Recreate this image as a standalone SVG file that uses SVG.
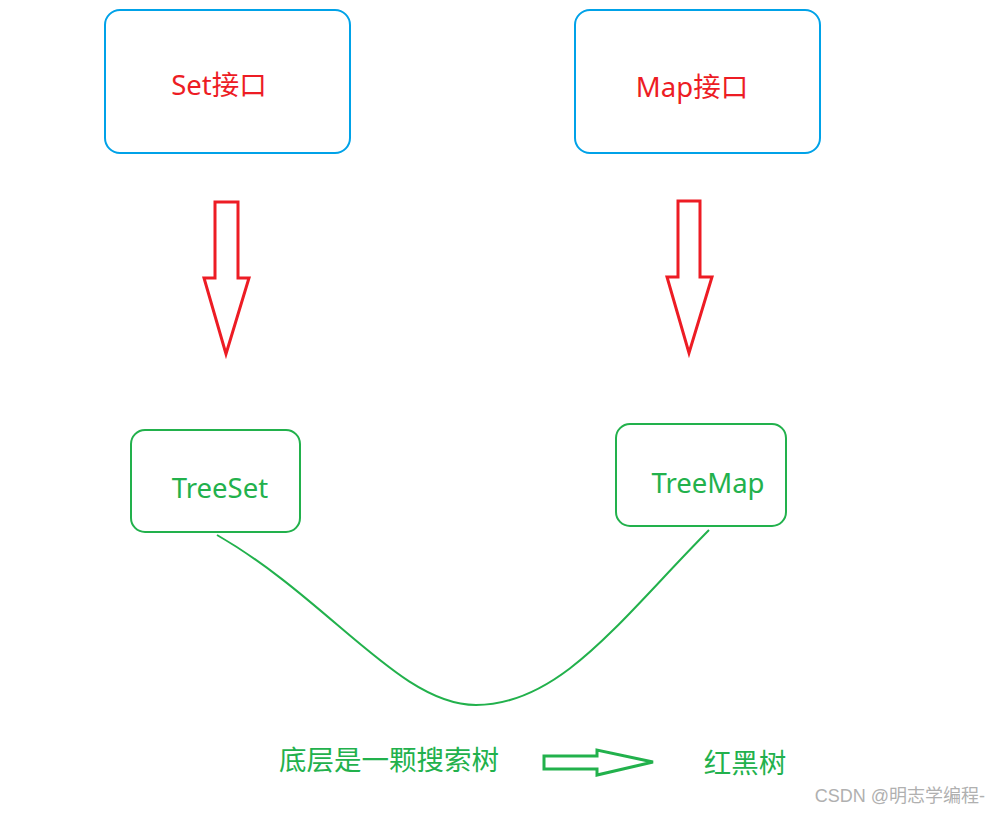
<svg xmlns="http://www.w3.org/2000/svg" width="988" height="813" viewBox="0 0 988 813">
<style>
.blue{fill:#fff;stroke:#00a2e8;stroke-width:2}
.grn{fill:#fff;stroke:#22b14c;stroke-width:2}
.ra{fill:none;stroke:#ed1c24;stroke-width:3}
.t{font-family:"Noto Sans","Noto Sans CJK SC",sans-serif;font-size:27.5px;text-anchor:middle}
.r{fill:#ed1c24}.g{fill:#22b14c}
</style>
<rect width="988" height="813" fill="#fff"/>
<g id="set"><rect class="blue" x="105" y="10" width="245" height="143" rx="15"/><text class="t r" x="219" y="95">Set接口</text></g>
<g id="map"><rect class="blue" x="575" y="10" width="245" height="143" rx="15"/><text class="t r" x="692" y="97">Map接口</text></g>
<g id="treeset"><rect class="grn" x="131" y="430" width="169" height="102" rx="14"/><text class="t g" x="220" y="498">TreeSet</text></g>
<g id="treemap"><rect class="grn" x="616" y="424" width="170" height="102" rx="14"/><text class="t g" x="708" y="493">TreeMap</text></g>
<g id="bottom"><text class="t g" x="389" y="770">底层是一颗搜索树</text><text class="t g" x="745" y="773">红黑树</text></g>
<g id="connectors">
<polygon class="ra" points="215,202 238,202 238,278 249,278 226,354 204,278 215,278"/>
<polygon class="ra" points="678,201 700,201 700,277 712,277 689,353 667,277 678,277"/>
<path d="M217,535 C330,600 400,705 476,705 C560,705 620,620 709,530" fill="none" stroke="#22b14c" stroke-width="2"/>
<polygon points="544,756 597,756 597,750 653,762 597,775 597,769 544,769" fill="none" stroke="#22b14c" stroke-width="3"/>
</g>
<text x="985" y="802" font-family="'Liberation Sans','Noto Sans CJK SC',sans-serif" font-size="18" fill="#b0b0b0" text-anchor="end">CSDN @明志学编程-</text>
</svg>
